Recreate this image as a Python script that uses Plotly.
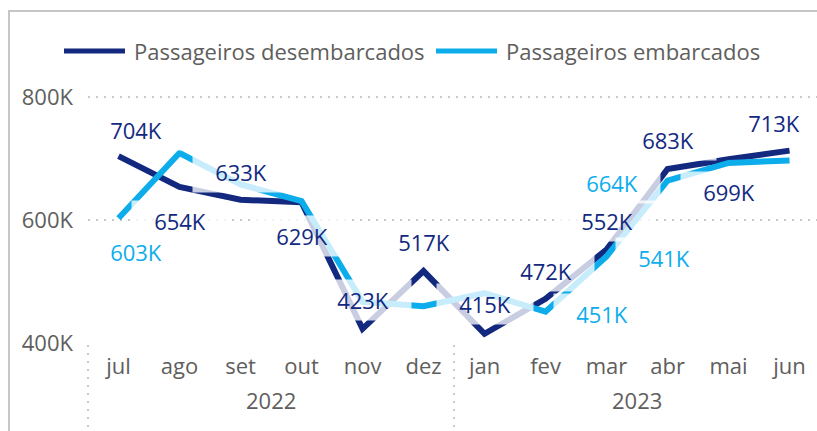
import plotly.graph_objects as go

# Monthly passenger counts, Jul 2022 - Jun 2023
months = ["jul", "ago", "set", "out", "nov", "dez", "jan", "fev", "mar", "abr", "mai", "jun"]
years = ["2022", "2023"]
desembarcados = [704000, 654000, 633000, 629000, 423000, 517000, 415000, 472000, 552000, 683000, 699000, 713000]
embarcados = [603000, 709000, 658000, 631000, 467000, 460000, 481000, 451000, 541000, 664000, 693000, 697000]
y_ticks = [400000, 600000, 800000]

NAVY = "#12297F"
CYAN = "#0DADEC"
GREY_TXT = "#605E5C"
FONT = "Open Sans, Noto Sans, sans-serif"
FS = 22

W, H = 817, 431
M_L, M_R, M_T, M_B = 88, 0, 75, 88
X_RANGE = [-0.5, 11.45]
Y_RANGE = [400000, 836000]
plot_w = W - M_L - M_R
plot_h = H - M_T - M_B


def px_x(px):
    return (px - M_L) / plot_w


def px_y(py):
    return (H - M_B - py) / plot_h


def k_label(v):
    return f"{round(v / 1000)}K"


fig = go.Figure()
fig.add_trace(go.Scatter(x=list(range(len(months))), y=desembarcados, mode="lines",
                         name="Passageiros desembarcados",
                         line=dict(color=NAVY, width=6), showlegend=False))
fig.add_trace(go.Scatter(x=list(range(len(months))), y=embarcados, mode="lines",
                         name="Passageiros embarcados",
                         line=dict(color=CYAN, width=6), showlegend=False))

# data labels: (series, month index, x offset px, y offset px)
label_spots = [
    ("d", 0, 17, 26), ("d", 1, 0, -34), ("d", 2, 0, 28), ("d", 3, 0, -34),
    ("d", 4, 0, 29), ("d", 5, 0, 29), ("d", 6, 0, 30), ("d", 7, 0, 28),
    ("d", 8, 0, 29), ("d", 9, 0, 29), ("d", 10, 0, -33), ("d", 11, -16, 28),
    ("e", 0, 17, -34), ("e", 7, 56, -2), ("e", 8, 57, -2), ("e", 9, -56, -2),
]
for ser, i, dx, dy in label_spots:
    vals = desembarcados if ser == "d" else embarcados
    col = NAVY if ser == "d" else CYAN
    fig.add_annotation(x=i, y=vals[i], xref="x", yref="y", text=k_label(vals[i]),
                       showarrow=False, xshift=dx, yshift=dy,
                       width=96, height=40, borderpad=0,
                       bgcolor="rgba(255,255,255,0.77)",
                       font=dict(family=FONT, size=FS, color=col))

# year labels under month ticks
for yr, xc in zip(years, [2.5, 8.5]):
    fig.add_annotation(x=xc, y=0, xref="x", yref="paper", text=yr, showarrow=False,
                       yanchor="middle", yshift=-57,
                       font=dict(family=FONT, size=FS, color=GREY_TXT))

shapes = []
# hierarchy separators below the axis
for xc in [-0.5, 5.5]:
    xp = (xc - X_RANGE[0]) / (X_RANGE[1] - X_RANGE[0])
    shapes.append(dict(type="line", xref="paper", yref="paper", x0=xp, x1=xp,
                       y0=px_y(345), y1=px_y(432),
                       line=dict(color="#C8C8C8", width=2, dash="2px,6px")))

# legend
legend_items = [("Passageiros desembarcados", NAVY, 64, 125, 132),
                ("Passageiros embarcados", CYAN, 436, 497, 504)]
for txt, col, x0, x1, tx in legend_items:
    shapes.append(dict(type="line", xref="paper", yref="paper",
                       x0=px_x(x0), x1=px_x(x1), y0=px_y(51), y1=px_y(51),
                       line=dict(color=col, width=5)))
    fig.add_annotation(x=px_x(tx), y=px_y(51), xref="paper", yref="paper", text=txt,
                       showarrow=False, xanchor="left", yanchor="middle",
                       font=dict(family=FONT, size=FS, color=GREY_TXT))

# visual frame
shapes.append(dict(type="rect", xref="paper", yref="paper",
                   x0=px_x(9), x1=px_x(830), y0=px_y(11), y1=px_y(445),
                   line=dict(color="#C6C6C6", width=2), layer="below"))

fig.update_layout(
    width=W, height=H, margin=dict(l=M_L, r=M_R, t=M_T, b=M_B),
    paper_bgcolor="white", plot_bgcolor="white",
    shapes=shapes,
    xaxis=dict(range=X_RANGE, tickvals=list(range(len(months))), ticktext=months,
               showgrid=False, zeroline=False, showline=False, ticks="",
               ticklabelstandoff=8,
               tickfont=dict(family=FONT, size=FS, color=GREY_TXT)),
    yaxis=dict(range=Y_RANGE, tickvals=y_ticks, ticktext=[k_label(v) for v in y_ticks],
               showgrid=True, gridcolor="#C8C8C8", gridwidth=2, griddash="2px,6px",
               zeroline=False, showline=False, ticks="", ticklabelstandoff=14,
               tickfont=dict(family=FONT, size=FS, color=GREY_TXT)),
)

fig.write_html("out.html")
